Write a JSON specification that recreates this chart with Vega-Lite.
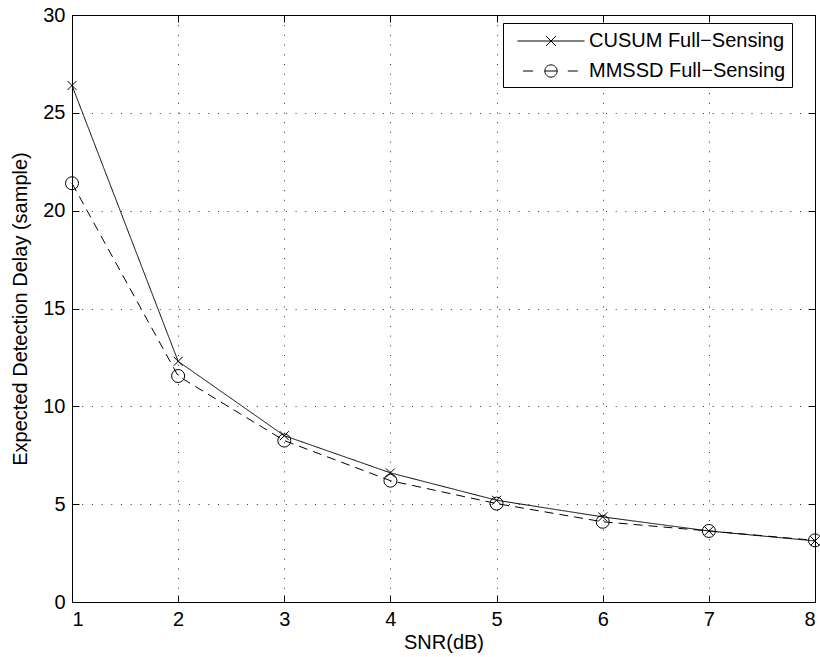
{
  "$schema": "https://vega.github.io/schema/vega-lite/v6.json",
  "autosize": {"type": "none"},
  "padding": {"left": 72, "top": 15, "right": 5, "bottom": 55},
  "width": 743,
  "height": 587,
  "background": "white",
  "config": {
    "font": "Liberation Sans",
    "view": {"stroke": "black", "strokeWidth": 1},
    "axis": {
      "domainColor": "black",
      "tickColor": "black",
      "labelColor": "black",
      "titleColor": "black",
      "labelFont": "Liberation Sans",
      "titleFont": "Liberation Sans",
      "labelFontSize": 20,
      "titleFontSize": 20,
      "titleFontWeight": "normal",
      "gridColor": "#333333",
      "gridDash": [1, 8.7],
      "gridWidth": 1,
      "gridOpacity": 1
    }
  },
  "data": {
    "values": [
      {"snr": 1, "series": "CUSUM Full\u2212Sensing", "delay": 26.4},
      {"snr": 2, "series": "CUSUM Full\u2212Sensing", "delay": 12.3},
      {"snr": 3, "series": "CUSUM Full\u2212Sensing", "delay": 8.5},
      {"snr": 4, "series": "CUSUM Full\u2212Sensing", "delay": 6.6},
      {"snr": 5, "series": "CUSUM Full\u2212Sensing", "delay": 5.2},
      {"snr": 6, "series": "CUSUM Full\u2212Sensing", "delay": 4.35},
      {"snr": 7, "series": "CUSUM Full\u2212Sensing", "delay": 3.63},
      {"snr": 8, "series": "CUSUM Full\u2212Sensing", "delay": 3.12},
      {"snr": 1, "series": "MMSSD Full\u2212Sensing", "delay": 21.4},
      {"snr": 2, "series": "MMSSD Full\u2212Sensing", "delay": 11.55},
      {"snr": 3, "series": "MMSSD Full\u2212Sensing", "delay": 8.25},
      {"snr": 4, "series": "MMSSD Full\u2212Sensing", "delay": 6.2},
      {"snr": 5, "series": "MMSSD Full\u2212Sensing", "delay": 5.03},
      {"snr": 6, "series": "MMSSD Full\u2212Sensing", "delay": 4.1},
      {"snr": 7, "series": "MMSSD Full\u2212Sensing", "delay": 3.63},
      {"snr": 8, "series": "MMSSD Full\u2212Sensing", "delay": 3.15}
    ]
  },
  "layer": [
    {
      "mark": {"type": "line", "color": "black", "strokeWidth": 1},
      "encoding": {
        "x": {
          "field": "snr", "type": "quantitative",
          "scale": {"domain": [1, 8], "nice": false, "zero": false},
          "axis": {"orient": "bottom", "values": [1,2,3,4,5,6,7,8], "title": "SNR(dB)", "grid": true, "tickSize": -7, "labelPadding": 14, "titlePadding": 3, "format": "d"}
        },
        "y": {
          "field": "delay", "type": "quantitative",
          "scale": {"domain": [0, 30], "nice": false},
          "axis": {"orient": "left", "values": [0,5,10,15,20,25,30], "title": "Expected Detection Delay (sample)", "grid": true, "tickSize": -7, "labelPadding": 14, "titlePadding": 12, "format": "d"}
        },
        "strokeDash": {
          "field": "series", "type": "nominal",
          "scale": {"range": [[1, 0], [9, 6]]},
          "legend": null
        }
      }
    },
    {
      "mark": {"type": "point", "filled": false, "color": "black", "strokeWidth": 1, "opacity": 1},
      "encoding": {
        "x": {
          "field": "snr", "type": "quantitative",
          "axis": {"orient": "top", "values": [1,2,3,4,5,6,7,8], "labels": false, "title": null, "grid": false, "tickSize": -7}
        },
        "y": {
          "field": "delay", "type": "quantitative",
          "axis": {"orient": "right", "values": [0,5,10,15,20,25,30], "labels": false, "title": null, "grid": false, "tickSize": -7}
        },
        "shape": {
          "field": "series", "type": "nominal",
          "scale": {"range": ["M-1,-1L1,1M-1,1L1,-1", "circle"]},
          "legend": null
        },
        "size": {
          "field": "series", "type": "nominal",
          "scale": {"range": [81, 169]},
          "legend": null
        }
      }
    },
    {
      "mark": {"type": "point", "filled": false, "color": "black", "strokeWidth": 1, "opacity": 0},
      "encoding": {
        "x": {"field": "snr", "type": "quantitative", "axis": null},
        "y": {"field": "delay", "type": "quantitative", "axis": null},
        "shape": {
          "field": "series", "type": "nominal",
          "scale": {"range": [
            "M-3,0H3M-0.45,-0.45L0.45,0.45M-0.45,0.45L0.45,-0.45",
            "M-2.5,0H-1.6M-0.55,0H0.55M1.5,0H2.4M0.55,0A0.55,0.55 0 1,1 -0.55,0A0.55,0.55 0 1,1 0.55,0"
          ]},
          "legend": {
            "title": null,
            "orient": "none",
            "legendX": 431,
            "legendY": 8,
            "strokeColor": "black",
            "fillColor": "white",
            "padding": 6,
            "symbolSize": 500,
            "symbolOffset": 30,
            "symbolOpacity": 1,
            "symbolStrokeColor": "black",
            "symbolFillColor": "transparent",
            "symbolStrokeWidth": 1,
            "labelFontSize": 20,
            "labelFont": "Liberation Sans",
            "labelColor": "black",
            "labelLimit": 400,
            "rowPadding": 8,
            "labelOffset": 26
          }
        }
      }
    }
  ],
  "resolve": {
    "axis": {"x": "independent", "y": "independent"},
    "scale": {"shape": "independent", "size": "independent"}
  }
}
